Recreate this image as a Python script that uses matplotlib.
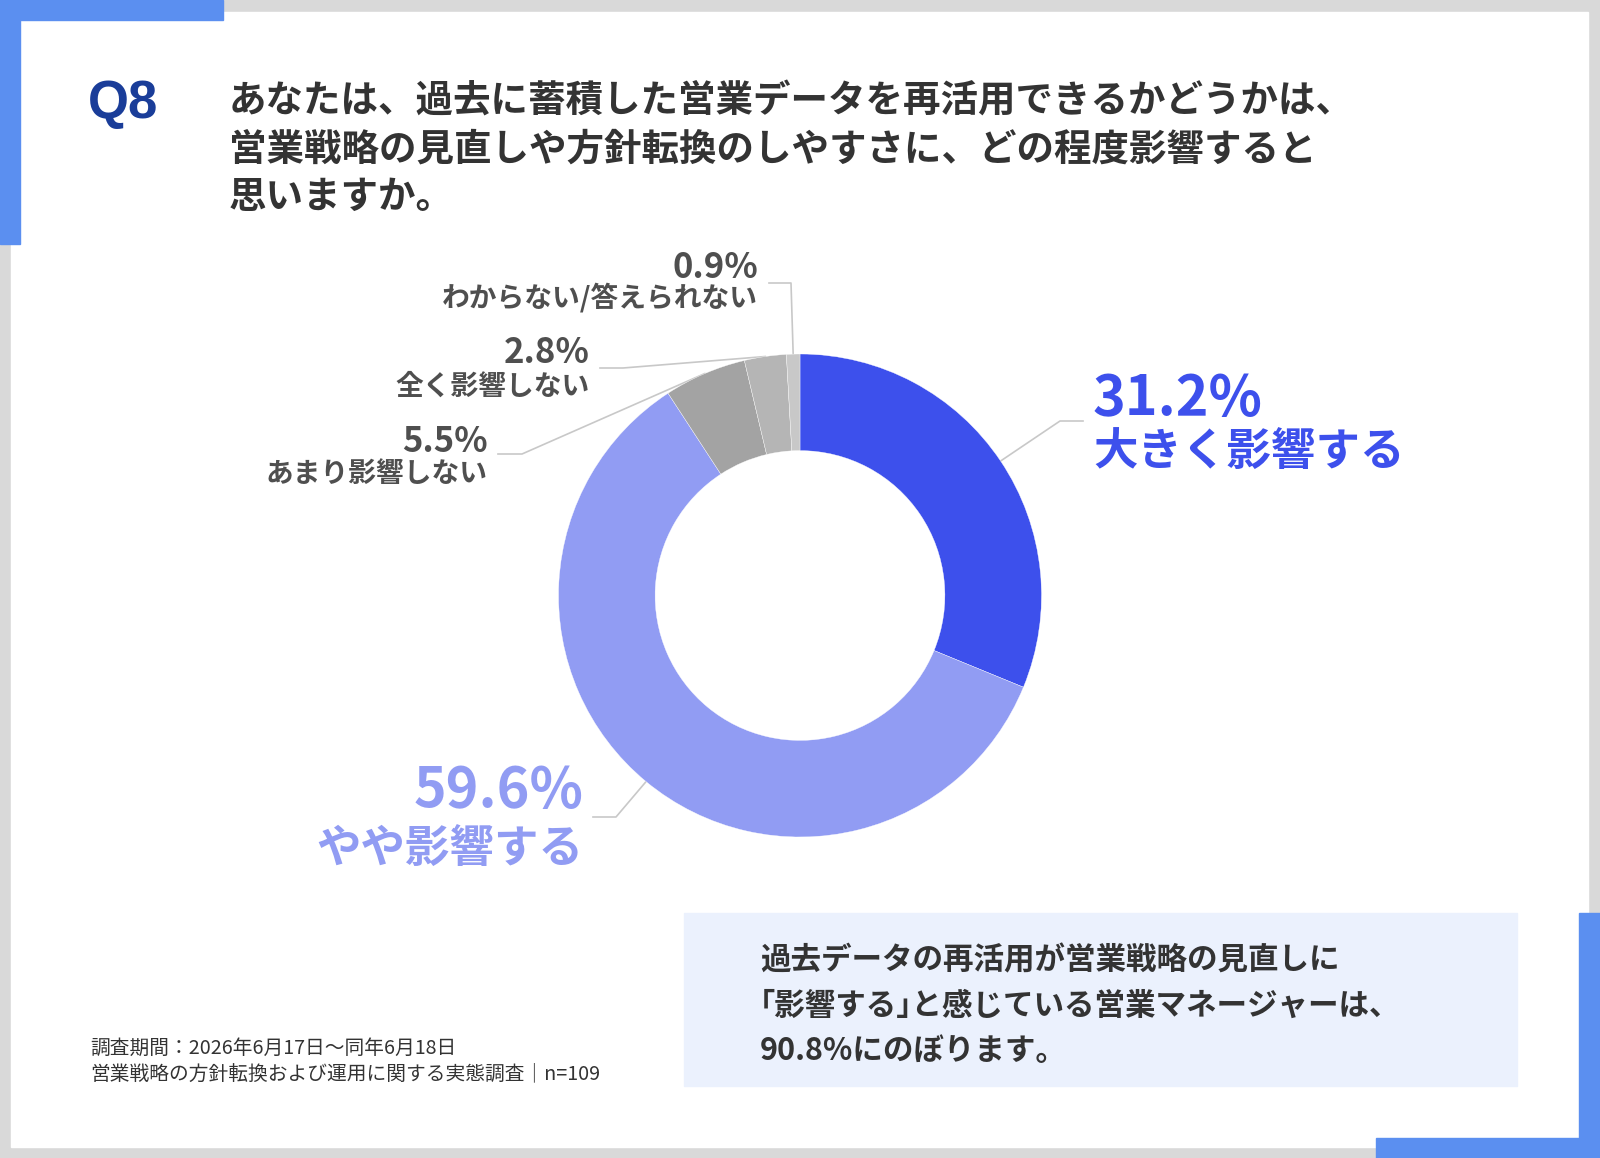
import numpy as np
import matplotlib.pyplot as plt
from matplotlib.patches import Rectangle

plt.rcParams['font.family'] = ['Noto Sans CJK JP', 'DejaVu Sans']

# --- DATA ---
categories = ['大きく影響する', 'やや影響する', 'あまり影響しない', '全く影響しない', 'わからない/答えられない']
values = [31.2, 59.6, 5.5, 2.8, 0.9]
slice_colors = ['#3d50ec', '#919cf3', '#a3a3a3', '#b5b5b5', '#c8c8c8']
text_colors = ['#3d50ec', '#919cf3', '#4f4f4f', '#4f4f4f', '#4f4f4f']

title_lines = [
    'あなたは、過去に蓄積した営業データを再活用できるかどうかは、',
    '営業戦略の見直しや方針転換のしやすさに、どの程度影響すると',
    '思いますか。',
]
note_lines = [
    '調査期間：2026年6月17日～同年6月18日',
    '営業戦略の方針転換および運用に関する実態調査｜n=109',
]
box_lines = [
    '過去データの再活用が営業戦略の見直しに',
    '｢影響する｣と感じている営業マネージャーは、',
    '90.8%にのぼります。',
]

W, H = 1600, 1158
CX, CY, R = 800, 595.5, 241.5   # donut centre / radius in pixels

fig = plt.figure(figsize=(W / 100, H / 100), dpi=100)
bg = fig.add_axes([0, 0, 1, 1])
bg.set_xlim(0, W)
bg.set_ylim(H, 0)
bg.axis('off')

# frame
bg.add_patch(Rectangle((0, 0), W, H, color='#d9d9d9', zorder=0))
bg.add_patch(Rectangle((11, 12), 1577, 1135, color='white', zorder=1))
blue = '#5b8ff0'
bg.add_patch(Rectangle((0, 0), 223, 20, color=blue, zorder=2))
bg.add_patch(Rectangle((0, 0), 20, 244, color=blue, zorder=2))
bg.add_patch(Rectangle((1579, 913), 21, 245, color=blue, zorder=2))
bg.add_patch(Rectangle((1376, 1138), 224, 20, color=blue, zorder=2))

# header
bg.text(88, 118, 'Q8', fontsize=38, fontweight='bold', color='#1a3d99',
        family=['Liberation Sans', 'DejaVu Sans'], va='baseline', zorder=3)
for i, line in enumerate(title_lines):
    bg.text(229, 113 + i * 47.5, line, fontsize=27, fontweight='bold',
            color='#333333', va='baseline', zorder=3)

# donut
pie_ax = fig.add_axes([(CX - R) / W, (H - CY - R) / H, 2 * R / W, 2 * R / H])
pie_ax.pie(values, colors=slice_colors, startangle=90, counterclock=False,
           radius=1, wedgeprops=dict(width=0.4, edgecolor='white', linewidth=0.25))
pie_ax.set_xlim(-1, 1)
pie_ax.set_ylim(-1, 1)
pie_ax.axis('off')

# label layout: elbow point, line end x, text x, align, pct baseline, label baseline
layout = [
    ((1060, 421), 1083, 1093, 'left', 415, 466),
    ((616, 817), 593, 583, 'right', 807, 863),
    ((522, 454), 498, 488, 'right', 452, 482),
    ((623, 368), 600, 590, 'right', 363, 395),
    ((791, 283), 769, 758, 'right', 278, 307),
]
big = [True, True, False, False, False]

cum = np.cumsum([0] + values[:-1])
for i, v in enumerate(values):
    ang = np.deg2rad((cum[i] + v / 2) / sum(values) * 360)
    sx, sy = CX + R * np.sin(ang), CY - R * np.cos(ang)
    (ex, ey), lx, tx, ha, pb, lb = layout[i]
    bg.plot([sx, ex, lx], [sy, ey, ey], color='#c8c8c8', lw=1.2, zorder=3)
    psize, lsize = (40, 32) if big[i] else (25, 20)
    bg.text(tx, pb, f'{v:.1f}%', fontsize=psize, fontweight='bold',
            color=text_colors[i], ha=ha, va='baseline', zorder=3)
    bg.text(tx, lb, categories[i], fontsize=lsize, fontweight='bold',
            color=text_colors[i], ha=ha, va='baseline', zorder=3)

# footnote
for i, line in enumerate(note_lines):
    bg.text(90, 1054 + i * 25, line, fontsize=14.2, color='#333333',
            va='baseline', zorder=3)

# summary box
bg.add_patch(Rectangle((684, 913), 833, 173, color='#ebf1fd', zorder=2))
for i, line in enumerate(box_lines):
    bg.text(760, 969 + i * 45.5, line, fontsize=22, fontweight='bold',
            color='#333333', va='baseline', zorder=3)

fig.savefig('out.png', dpi=100)
